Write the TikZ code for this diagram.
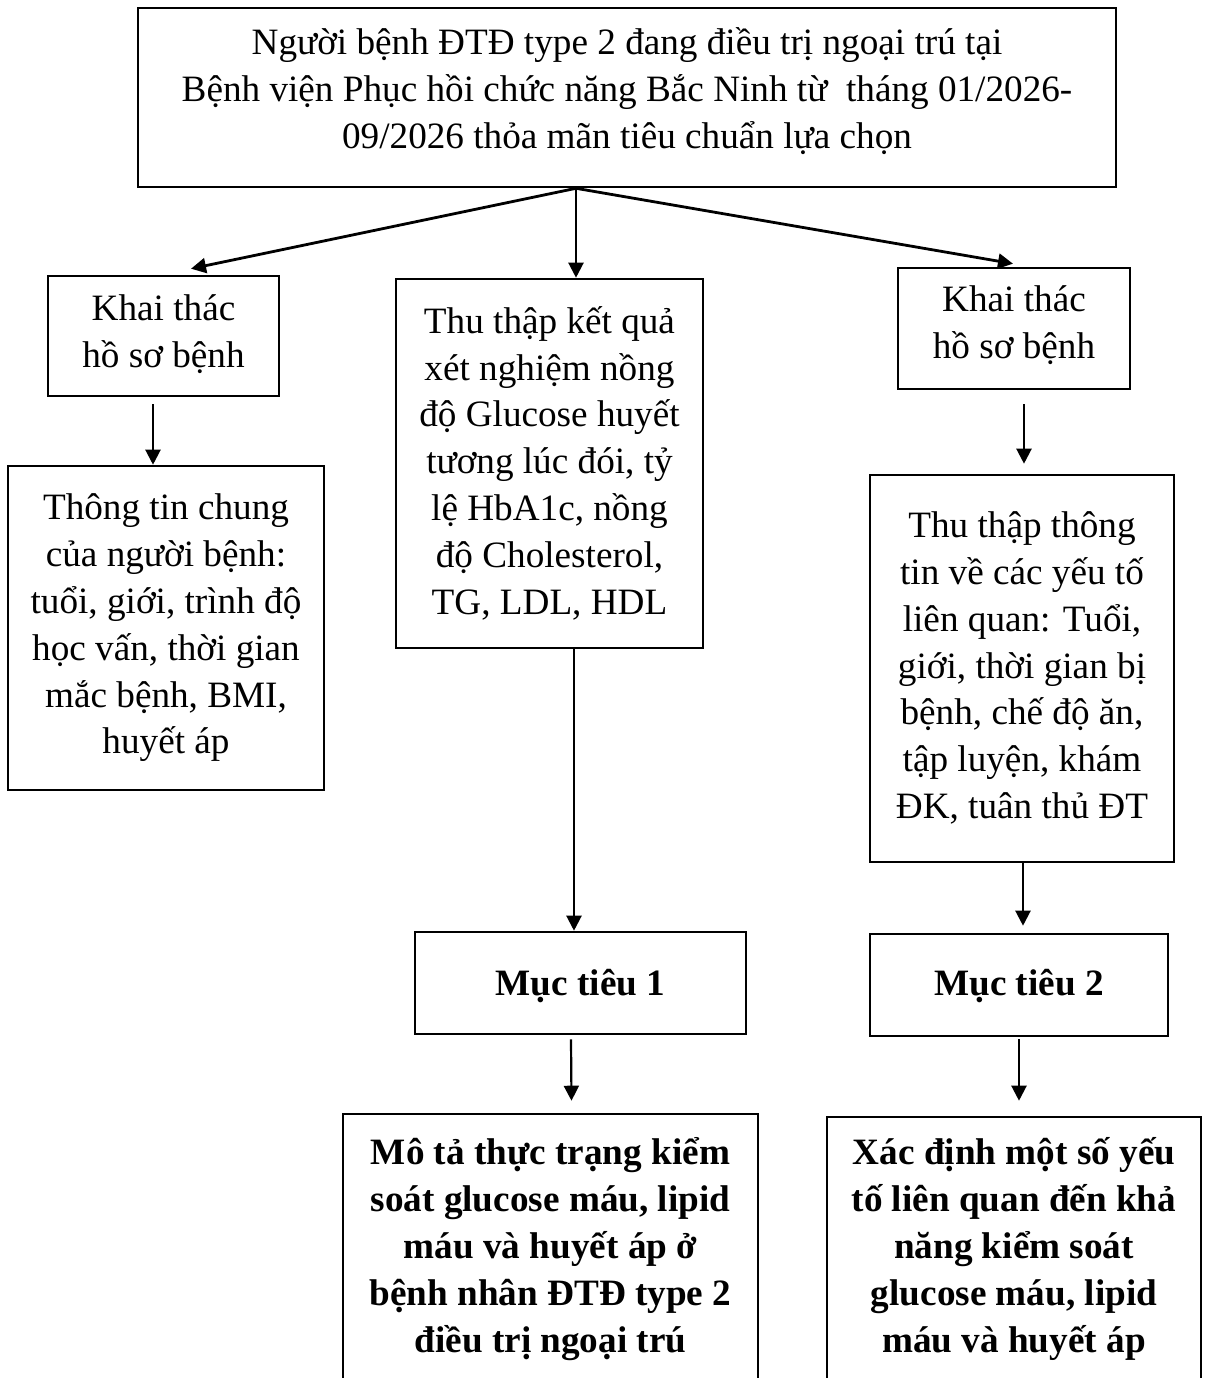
\documentclass[tikz,border=0pt]{standalone}
\usepackage{fontspec}
\setmainfont{Liberation Serif}
\usetikzlibrary{arrows.meta,calc}
\begin{document}
\begin{tikzpicture}[x=0.5pt,y=-0.5pt,
  box/.style={draw, line width=1.3pt, rectangle, inner sep=0pt},
  txt/.style={align=center, inner sep=0pt, font=\fontsize{18.6}{23.4}\selectfont},
  btxt/.style={align=center, inner sep=0pt, font=\fontsize{18.6}{23.4}\selectfont\bfseries},
  arr/.style={line width=1.1pt, -{Triangle[length=7.5pt,width=7.5pt]}},
  darr/.style={line width=1.4pt, -{Triangle[length=7.5pt,width=7.5pt]}}]
\fill[white] (0,0) rectangle (1208,1378);
\useasboundingbox (0,0) rectangle (1208,1378);
\clip (0,0) rectangle (1208,1378);

% boxes
\node[box, minimum width=489pt, minimum height=89.5pt] (top) at (627,97.5) {};
\node[box, minimum width=115.5pt, minimum height=60pt] (left1) at (163.5,336) {};
\node[box, minimum width=158pt, minimum height=162pt] (left2) at (166,628) {};
\node[box, minimum width=153.5pt, minimum height=184.5pt] (mid1) at (549.5,463.5) {};
\node[box, minimum width=165.5pt, minimum height=51pt] (mid2) at (580.5,983) {};
\node[box, minimum width=207.5pt, minimum height=200pt] (mid3) at (550.5,1314) {};
\node[box, minimum width=116pt, minimum height=60.5pt] (right1) at (1014,328.5) {};
\node[box, minimum width=152pt, minimum height=193.5pt] (right2) at (1022,668.5) {};
\node[box, minimum width=149pt, minimum height=51pt] (right3) at (1019,985) {};
\node[box, minimum width=187pt, minimum height=200pt] (right4) at (1014,1317) {};

% texts
\node[txt] (topT) at (627,91) {Người bệnh ĐTĐ type 2 đang điều trị ngoại trú tại\\Bệnh viện Phục hồi chức năng Bắc Ninh từ\ \ tháng 01/2026-\\09/2026 thỏa mãn tiêu chuẩn lựa chọn};
\node[txt] (left1T) at (163.5,334) {Khai thác\\hồ sơ bệnh};
\node[txt] (left2T) at (166,628) {Thông tin chung\\của người bệnh:\\tuổi, giới, trình độ\\học vấn, thời gian\\mắc bệnh, BMI,\\huyết áp};
\node[txt] (mid1T) at (549.5,463) {Thu thập kết quả\\xét nghiệm nồng\\độ Glucose huyết\\tương lúc đói, tỷ\\lệ HbA1c, nồng\\độ Cholesterol,\\TG, LDL, HDL};
\node[btxt] (mid2T) at (580.5,986) {Mục tiêu 1};
\node[btxt] (mid3T) at (550.5,1249) {Mô tả thực trạng kiểm\\soát glucose máu, lipid\\máu và huyết áp ở\\bệnh nhân ĐTĐ type 2\\điều trị ngoại trú};
\node[txt] (right1T) at (1014,325) {Khai thác\\hồ sơ bệnh};
\node[txt] (right2T) at (1022,668) {Thu thập thông\\tin về các yếu tố\\liên quan: Tuổi,\\giới, thời gian bị\\bệnh, chế độ ăn,\\tập luyện, khám\\ĐK, tuân thủ ĐT};
\node[btxt] (right3T) at (1019,986) {Mục tiêu 2};
\node[btxt] (right4T) at (1014,1249) {Xác định một số yếu\\tố liên quan đến khả\\năng kiểm soát\\glucose máu, lipid\\máu và huyết áp};

% connectors
\coordinate (apex) at ($(top.south)+(-51,0)$);
\draw[darr] (apex) -- ($(left1.north)+(27.5,-6)$);
\draw[arr] (apex) -- ($(mid1.north)+(26.5,0)$);
\draw[darr] (apex) -- ($(right1.north)+(-1,-3)$);
\draw[arr] ($(left1.south)+(-10.5,7)$) -- ($(left2.north)+(-13,0)$);
\draw[arr] ($(right1.south)+(10,14)$) -- ($(right2.north)+(2,-10)$);
\draw[arr] ($(mid1.south)+(24.5,0)$) -- ($(mid2.north)+(-6.5,0)$);
\draw[arr] ($(mid2.south)+(-9.5,4)$) -- ($(mid3.north)+(21,-12)$);
\draw[arr] ($(right2.south)+(1,0)$) -- ($(right3.north)+(4,-7)$);
\draw[arr] ($(right3.south)+(0,2)$) -- ($(right4.north)+(5,-15)$);
\end{tikzpicture}
\end{document}
